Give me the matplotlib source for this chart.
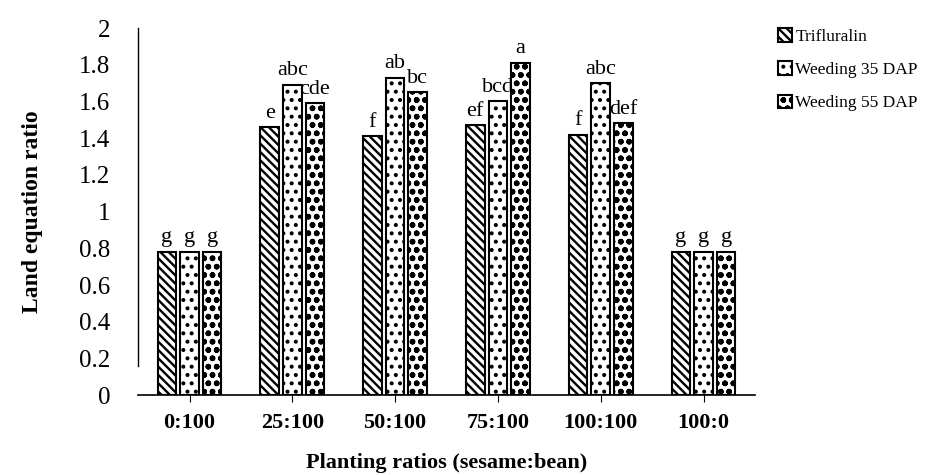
import numpy as np
import matplotlib
matplotlib.use("Agg")
import matplotlib.pyplot as plt

plt.rcParams['font.family'] = ['Liberation Serif', 'DejaVu Serif']
plt.rcParams['hatch.linewidth'] = 1.7

# data
ratios = ['0:100', '25:100', '50:100', '75:100', '100:100', '100:0']
trifluralin = [0.78, 1.46, 1.41, 1.47, 1.42, 0.78]
weeding35 = [0.78, 1.69, 1.73, 1.60, 1.70, 0.78]
weeding55 = [0.78, 1.59, 1.65, 1.81, 1.48, 0.78]
letters_tri = ['g', 'e', 'f', 'ef', 'f', 'g']
letters_w35 = ['g', 'abc', 'ab', 'bcd', 'abc', 'g']
letters_w55 = ['g', 'cde', 'bc', 'a', 'def', 'g']
series_names = ['Trifluralin', 'Weeding 35 DAP', 'Weeding 55 DAP']

fig = plt.figure(figsize=(9.46, 4.75), dpi=100)
ax = fig.add_axes([0.146, 0.168, 0.652, 0.773])

x = np.arange(len(ratios))
w = 0.18
step = 0.22
hatches = ['\\\\\\\\', '..', 'oo']
series = [trifluralin, weeding35, weeding55]
labels = [letters_tri, letters_w35, letters_w55]

for k in range(3):
    pos = x + (k - 1) * step
    ax.bar(pos, series[k], width=w, color='white', edgecolor='black',
           linewidth=1.5, hatch=hatches[k], label=series_names[k])
    for p, v, t in zip(pos, series[k], labels[k]):
        ax.text(p, v + 0.025, t, ha='center', va='bottom', fontsize=16)

ax.set_xlim(-0.5, len(ratios) - 0.5)
ax.set_ylim(0, 2)
ax.set_yticks(np.arange(0, 2.01, 0.2))
ax.set_yticklabels(['0', '0.2', '0.4', '0.6', '0.8', '1', '1.2', '1.4', '1.6', '1.8', '2'])
ax.set_xticks(x)
ax.set_xticklabels(ratios, fontweight='bold', fontsize=16)
ax.tick_params(axis='y', length=0, pad=20, labelsize=18)
ax.tick_params(axis='x', length=5, direction='out', pad=8)

ax.spines['top'].set_visible(False)
ax.spines['right'].set_visible(False)
ax.spines['left'].set_bounds(0.16, 2)
ax.spines['left'].set_linewidth(1)
ax.spines['bottom'].set_linewidth(1.2)

ax.set_ylabel('Land equation ratio', fontweight='bold', fontsize=17, labelpad=26)
ax.set_xlabel('Planting ratios (sesame:bean)', fontweight='bold', fontsize=16, labelpad=14)

fig.legend(loc='upper left', bbox_to_anchor=(0.815, 0.955), frameon=False,
           fontsize=12.5, handlelength=0.8, handleheight=0.8, handletextpad=0.2,
           labelspacing=0.95, borderaxespad=0)

fig.savefig('out.png', dpi=100)
